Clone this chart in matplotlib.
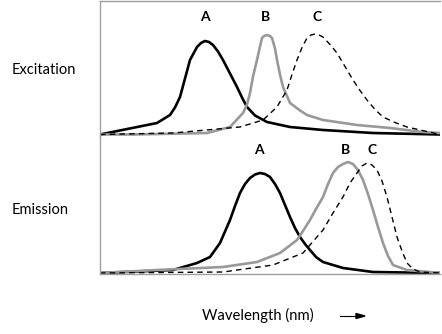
import matplotlib.pyplot as plt

# excitation spectra (x position, intensity)
ex_a_x = [0, 57, 70, 75, 80, 85, 90, 97, 101, 105, 109, 113, 118, 123, 130, 137, 142, 147, 155, 167, 190, 223, 273, 340]
ex_a_y = [0.0, 0.115, 0.195, 0.27, 0.375, 0.56, 0.745, 0.875, 0.915, 0.935, 0.925, 0.895, 0.83, 0.745, 0.61, 0.475, 0.37,
          0.275, 0.19, 0.125, 0.075, 0.045, 0.015, 0.0]
ex_b_x = [0, 33, 107, 130, 143, 147, 150, 153, 157, 160, 162, 164, 167, 170, 172, 175, 177, 180, 183, 190, 200, 207, 223,
          257, 290, 323, 340]
ex_b_y = [0.0, 0.0, 0.015, 0.075, 0.215, 0.30, 0.415, 0.58, 0.745, 0.88, 0.965, 0.985, 0.995, 0.985, 0.965, 0.86, 0.745,
          0.60, 0.475, 0.315, 0.24, 0.195, 0.145, 0.095, 0.065, 0.025, 0.015]
ex_c_x = [0, 73, 140, 163, 177, 187, 192, 197, 202, 207, 211, 215, 219, 223, 230, 237, 245, 253, 260, 267, 275, 283, 295,
          307, 340]
ex_c_y = [0.0, 0.015, 0.075, 0.145, 0.275, 0.445, 0.60, 0.745, 0.87, 0.965, 0.995, 1.005, 0.995, 0.975, 0.90, 0.815,
          0.68, 0.545, 0.44, 0.345, 0.25, 0.175, 0.12, 0.075, 0.0]

# emission spectra
em_a_x = [0, 73, 97, 110, 120, 130, 135, 140, 145, 150, 155, 160, 165, 170, 175, 180, 185, 190, 195, 200, 205, 210, 216,
          223, 243, 273, 340]
em_a_y = [0.0, 0.03, 0.10, 0.16, 0.30, 0.53, 0.67, 0.80, 0.89, 0.95, 0.985, 1.00, 0.99, 0.96, 0.89, 0.80, 0.68, 0.56,
          0.45, 0.36, 0.29, 0.23, 0.16, 0.11, 0.05, 0.01, 0.0]
em_b_x = [0, 57, 123, 157, 180, 197, 203, 210, 216, 223, 228, 233, 238, 243, 248, 253, 258, 263, 268, 273, 278, 283,
          288, 293, 307, 340]
em_b_y = [0.0, 0.03, 0.06, 0.11, 0.20, 0.33, 0.42, 0.53, 0.64, 0.76, 0.89, 1.00, 1.06, 1.09, 1.11, 1.09, 1.03, 0.93,
          0.79, 0.63, 0.46, 0.30, 0.17, 0.08, 0.03, 0.0]
em_c_x = [0, 123, 173, 203, 223, 233, 243, 250, 257, 262, 267, 272, 277, 282, 287, 292, 297, 302, 307, 313, 320, 340]
em_c_y = [0.0, 0.01, 0.08, 0.20, 0.43, 0.60, 0.76, 0.90, 1.00, 1.07, 1.10, 1.08, 1.03, 0.92, 0.76, 0.56, 0.36, 0.22,
          0.10, 0.04, 0.01, 0.0]

W, H = 442, 334
fig = plt.figure(figsize=(W / 100, H / 100), dpi=100)
plt.rcParams['font.family'] = ['Lato', 'DejaVu Sans']

frame = '#a0a0a0'
gray = '#999999'

def px(x, y):
    return x / W, 1 - y / H

ax1 = fig.add_axes([100 / W, 1 - 136 / H, 340 / W, 135 / H])
ax2 = fig.add_axes([100 / W, 1 - 274 / H, 340 / W, 138 / H])

ax1.plot(ex_a_x, ex_a_y, color='black', lw=1.9)
ax1.plot(ex_b_x, ex_b_y, color=gray, lw=1.9)
ax1.plot(ex_c_x, ex_c_y, color='black', lw=1.0, ls=(0, (4, 3)))
ax1.set_ylim(-0.015, 1.335)

ax2.plot(em_a_x, em_a_y, color='black', lw=1.9)
ax2.plot(em_b_x, em_b_y, color=gray, lw=1.9)
ax2.plot(em_c_x, em_c_y, color='black', lw=1.0, ls=(0, (4, 3)))
ax2.set_ylim(-0.01, 1.37)

for ax, shown in ((ax1, ('left', 'top')), (ax2, ('left', 'bottom'))):
    ax.set_xlim(0, 340)
    ax.set_xticks([])
    ax.set_yticks([])
    for name, sp in ax.spines.items():
        sp.set_visible(name in shown)
        sp.set_color(frame)
        sp.set_linewidth(1.0)
    ax.patch.set_visible(False)

for label, x, y in (('A', 205, 17), ('B', 265, 17), ('C', 317, 17),
                    ('A', 259, 150), ('B', 346, 150), ('C', 372, 150)):
    fig.text(*px(x, y), label, ha='center', va='center', fontsize=10, fontweight='bold')

fig.text(*px(12, 70), 'Excitation', ha='left', va='center', fontsize=10.5)
fig.text(*px(12, 210), 'Emission', ha='left', va='center', fontsize=10.5)
fig.text(*px(258, 315), 'Wavelength (nm)', ha='center', va='center', fontsize=10.7)
fig.add_artist(plt.Line2D([340 / W, 358 / W], [1 - 316 / H] * 2, color='black', lw=0.8))
fig.patches.append(plt.Polygon([px(365, 316), px(356, 313.5), px(356, 318.5)],
                               closed=True, color='black', transform=fig.transFigure, figure=fig))

fig.savefig('out.png', dpi=100)
